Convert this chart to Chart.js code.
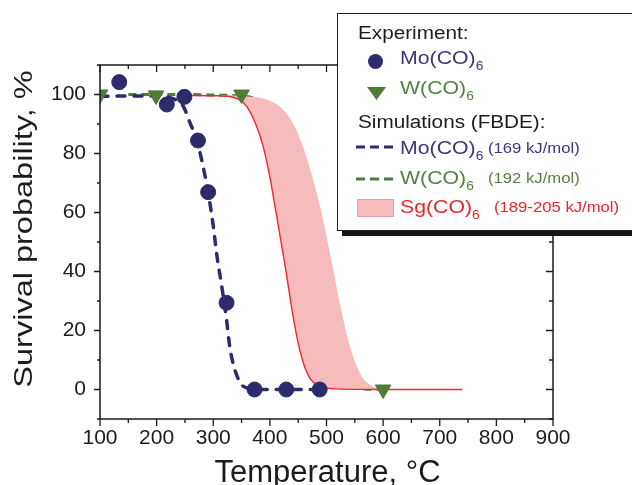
<!DOCTYPE html>
<html>
<head>
<meta charset="utf-8">
<script src="https://cdn.jsdelivr.net/npm/chart.js@4/dist/chart.umd.min.js"></script>
<style>
    html, body { margin: 0; padding: 0; background: #fff; }
    #wrap { position: relative; width: 632px; height: 485px; overflow: hidden; font-family: "Liberation Sans", Arial, sans-serif; }
    #chart { position: absolute; left: 0; top: 0; }
    #legend { position: absolute; left: 337px; top: 13px; width: 330px; height: 216px; border: 1px solid #222; background: #fff; box-shadow: 5px 5px 0 #151515; }
    .t { position: absolute; white-space: nowrap; line-height: 22px; height: 22px; transform: scaleX(1.15); transform-origin: 0 50%; }
    .t sub { font-size: 12px; vertical-align: -6px; line-height: 0; }
    .k { position: absolute; display: block; }
</style>
</head>
<body>
<div id="wrap">
    <canvas id="chart" width="632" height="485"></canvas>
    <div id="legend">
        <div class="t" style="left:20px;top:8px;font-size:18px;color:#1c1c1c">Experiment:</div>
        <div class="k" style="left:30px;top:39.5px;width:15px;height:15px;border-radius:50%;background:#2e2b6d"></div>
        <div class="t" style="left:62px;top:32.5px;font-size:18.5px;color:#3a3680">Mo(CO)<sub>6</sub></div>
        <svg class="k" style="left:28.5px;top:72.5px" width="19" height="14"><polygon points="0,0 19,0 9.5,13" fill="#4e7c39"/></svg>
        <div class="t" style="left:62px;top:63.3px;font-size:18.5px;color:#52823f">W(CO)<sub>6</sub></div>
        <div class="t" style="left:20px;top:96.7px;font-size:18px;color:#1c1c1c">Simulations (FBDE):</div>
        <svg class="k" style="left:18px;top:131px" width="38" height="4"><line x1="0" y1="2" x2="38" y2="2" stroke="#2e2b6d" stroke-width="3" stroke-dasharray="9 5"/></svg>
        <div class="t" style="left:62px;top:123.3px;font-size:18.5px;color:#3a3680">Mo(CO)<sub>6</sub></div>
        <div class="t" style="left:150px;top:123.3px;font-size:14.5px;color:#3a3680">(169 kJ/mol)</div>
        <svg class="k" style="left:18px;top:162.5px" width="38" height="4"><line x1="0" y1="2" x2="38" y2="2" stroke="#4e7c39" stroke-width="3" stroke-dasharray="9 5"/></svg>
        <div class="t" style="left:62px;top:153.3px;font-size:18.5px;color:#52823f">W(CO)<sub>6</sub></div>
        <div class="t" style="left:150px;top:153.3px;font-size:14.5px;color:#52823f">(192 kJ/mol)</div>
        <div class="k" style="left:18.7px;top:185.3px;width:35px;height:16px;background:#f6bbbc;border:1px solid #e7a2a4"></div>
        <div class="t" style="left:62px;top:181.7px;font-size:18.5px;color:#e8262c">Sg(CO)<sub>6</sub></div>
        <div class="t" style="left:156px;top:181.7px;font-size:14.5px;color:#e8262c">(189-205 kJ/mol)</div>
    </div>
</div>
<script>
// 軸の目盛り
const xTicks = [100, 200, 300, 400, 500, 600, 700, 800, 900];
const yTicks = [0, 20, 40, 60, 80, 100];

// 実験値 Mo(CO)6
const moExpT = [134, 218, 249, 273, 291, 323.5, 373, 429, 488];
const moExpP = [104.2, 96.6, 99.2, 84.4, 66.9, 29.4, 0, 0, 0];

// 実験値 W(CO)6
const wExpT = [100, 199, 350, 600];
const wExpP = [100, 99.7, 100, 0];

// シミュレーション Mo(CO)6 (169 kJ/mol)
const moSimT = [100, 150, 200, 230, 247, 259, 270.6, 282, 291, 300, 306, 315, 323.5, 329, 338, 350, 362, 373, 400, 450, 500];
const moSimP = [99.4, 99.5, 99.5, 98.5, 96, 90.4, 84.7, 75.7, 66.7, 55.5, 46, 35, 23.7, 14.7, 6.8, 1.7, 0.4, 0, 0, 0, 0];

// シミュレーション W(CO)6 (192 kJ/mol)
const wSimT = [150, 200, 250, 300, 350, 390, 410, 425, 440, 455, 470, 490, 510, 530, 560, 600];
const wSimP = [100, 100, 100, 99.8, 99.5, 96, 88, 78, 62, 45, 28, 12, 4, 1.5, 0.3, 0];

// シミュレーション Sg(CO)6 (189-205 kJ/mol) 下側 / 上側
const sgLowT = [250, 300, 329, 345, 359, 376, 388, 400, 410, 418, 426, 435, 444, 456, 470, 488, 517, 600, 740];
const sgLowP = [99.7, 99.6, 99.3, 98.3, 96, 89.5, 82.5, 72, 61, 52, 43, 32, 21.5, 11, 4, 1.2, 0.2, 0, 0];
const sgHighT = [250, 300, 350, 394, 420, 440, 460, 475, 490, 502, 514, 526, 538, 550, 562, 575, 590, 620, 740];
const sgHighP = [99.8, 99.8, 99.5, 98.3, 95.5, 90.5, 81.5, 72, 61, 50, 38.5, 27, 17, 9.5, 4.5, 1.8, 0.5, 0, 0];

const NAVY = "#2e2b6d";
const GREEN = "#4e7c39";
const RED = "#ea2a2f";
const PINK = "#f6bbbc";

const pts = (xs, ys) => xs.map((v, i) => ({ x: v, y: ys[i] }));

/**
 * 枠・目盛り・軸タイトルを描く
 */
const framePlugin = {
    id: "frame",
    afterDraw(chart) {
        const { ctx, chartArea: a, scales: { x, y } } = chart;
        ctx.save();
        ctx.strokeStyle = "#1a1a1a";
        ctx.lineWidth = 1.5;
        ctx.strokeRect(a.left, a.top, a.right - a.left, a.bottom - a.top);

        ctx.lineWidth = 1.3;
        ctx.beginPath();
        for (let v = 100; v <= 900; v += 50) {
            const px = x.getPixelForValue(v);
            const major = v % 100 === 0;
            ctx.moveTo(px, a.bottom);
            ctx.lineTo(px, a.bottom + (major ? 7 : 4));
            ctx.moveTo(px, a.top);
            ctx.lineTo(px, a.top + (major ? 7 : 4));
        }
        for (let v = -10; v <= 110; v += 10) {
            const py = y.getPixelForValue(v);
            const major = v % 20 === 0;
            ctx.moveTo(a.left, py);
            ctx.lineTo(a.left - (major ? 6 : 3), py);
            ctx.moveTo(a.right, py);
            ctx.lineTo(a.right - (major ? 7 : 4), py);
        }
        ctx.stroke();

        // 軸タイトル
        ctx.fillStyle = "#1c1c1c";
        ctx.font = '31px "Liberation Sans", Arial, sans-serif';
        ctx.textAlign = "center";
        ctx.textBaseline = "alphabetic";
        ctx.fillText("Temperature, °C", (a.left + a.right) / 2 + 1, 482);

        ctx.translate(32, 229);
        ctx.rotate(-Math.PI / 2);
        ctx.scale(1.3, 1);
        ctx.font = '25px "Liberation Sans", Arial, sans-serif';
        ctx.fillText("Survival probability, %", 0, 0);
        ctx.restore();
    }
};

const ctx = document.getElementById("chart").getContext("2d");
new Chart(ctx, {
    type: "scatter",
    data: {
        datasets: [
            {
                data: pts(moExpT, moExpP),
                pointStyle: "circle",
                pointRadius: 7.5,
                backgroundColor: NAVY,
                borderColor: NAVY,
                showLine: false,
            },
            {
                data: pts(wExpT, wExpP),
                pointStyle: "triangle",
                pointRotation: 180,
                pointRadius: 9,
                backgroundColor: GREEN,
                borderColor: GREEN,
                showLine: false,
            },
            {
                data: pts(sgLowT, sgLowP),
                showLine: true,
                borderColor: RED,
                borderWidth: 1.4,
                pointRadius: 0,
                cubicInterpolationMode: "monotone",
                fill: false,
            },
            {
                data: pts(sgHighT, sgHighP),
                showLine: true,
                borderWidth: 0,
                borderColor: PINK,
                backgroundColor: PINK,
                pointRadius: 0,
                cubicInterpolationMode: "monotone",
                fill: 2,
            },
            {
                data: pts(moSimT, moSimP),
                showLine: true,
                borderColor: NAVY,
                borderWidth: 3.5,
                borderDash: [8, 9],
                borderCapStyle: "round",
                pointRadius: 0,
                cubicInterpolationMode: "monotone",
            },
            {
                data: pts(wSimT, wSimP),
                showLine: true,
                borderColor: GREEN,
                borderWidth: 3,
                borderDash: [8, 5],
                pointRadius: 0,
                cubicInterpolationMode: "monotone",
            },
        ],
    },
    options: {
        responsive: false,
        animation: false,
        layout: { padding: { left: 0, top: 65, right: 79, bottom: 0 } },
        plugins: {
            legend: { display: false },
            tooltip: { enabled: false },
        },
        scales: {
            x: {
                type: "linear",
                min: 100,
                max: 900,
                grid: { display: false, drawTicks: false },
                border: { display: false },
                afterBuildTicks: (s) => { s.ticks = xTicks.map((v) => ({ value: v })); },
                afterFit: (s) => { s.height = 66; },
                ticks: {
                    padding: 7,
                    color: "#1c1c1c",
                    font: { family: '"Liberation Sans", Arial, sans-serif', size: 21 },
                },
            },
            y: {
                type: "linear",
                min: -10,
                max: 110,
                grid: { display: false, drawTicks: false },
                border: { display: false },
                afterBuildTicks: (s) => { s.ticks = yTicks.map((v) => ({ value: v })); },
                afterFit: (s) => { s.width = 100; },
                ticks: {
                    padding: 14,
                    color: "#1c1c1c",
                    font: { family: '"Liberation Sans", Arial, sans-serif', size: 21 },
                },
            },
        },
    },
    plugins: [framePlugin],
});
</script>
</body>
</html>
